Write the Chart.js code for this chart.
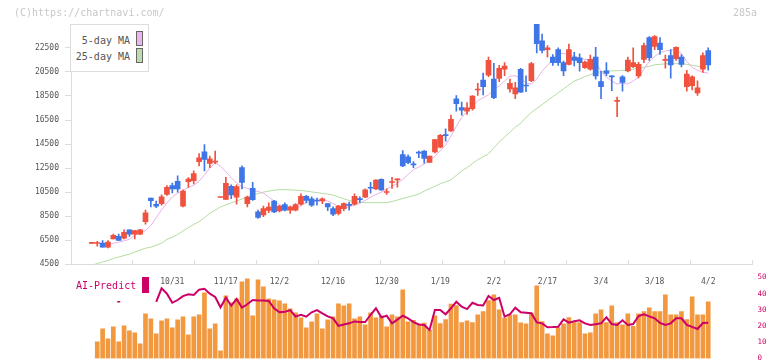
<!DOCTYPE html>
<html><head><meta charset="utf-8">
<script src="https://cdn.jsdelivr.net/npm/chart.js@4/dist/chart.umd.min.js"></script>
<style>
html,body{margin:0;padding:0;background:#fff;}
body{width:772px;height:361px;overflow:hidden;position:relative;font-family:'DejaVu Sans Mono',monospace;}
canvas{position:absolute;left:0;}
#c1{top:0;}
#c2{top:268px;}
.t{position:absolute;font-size:10px;line-height:12px;height:12px;white-space:pre;z-index:3;}
.sw{position:absolute;box-sizing:border-box;z-index:3;}
</style>
</head><body>
<canvas id="c1" width="772" height="275"></canvas>
<canvas id="c2" width="772" height="100"></canvas>
<div class="t" style="left:14px;top:7px;color:#c8c8c8;">(C)https://chartnavi.com/</div>
<div class="t" style="left:733px;top:7px;color:#c8c8c8;">285a</div>
<div class="sw" style="left:70px;top:24px;width:79px;height:48px;border:1px solid #ddd;background:#fff;z-index:2;"></div>
<div class="t" style="left:70px;width:60px;text-align:right;top:35px;color:#555;">5-day MA</div>
<div class="sw" style="left:136px;top:31px;width:7px;height:15px;border:1px solid #666;background:#ecb6ec;"></div>
<div class="t" style="left:70px;width:60px;text-align:right;top:51px;color:#555;">25-day MA</div>
<div class="sw" style="left:136px;top:48px;width:7px;height:15px;border:1px solid #666;background:#bcdcac;"></div>
<div class="t" style="left:76px;top:280px;color:#cc0066;">AI-Predict</div>
<div class="sw" style="left:142px;top:277px;width:7px;height:16px;background:#cc0066;"></div>
<script>
// ---- data ----
const dateLabels = ['10/31','11/17','12/2','12/16','12/30','1/19','2/2','2/17','3/4','3/18','4/2'];
const dateIdx = [15,25,35,45,55,65,75,85,95,105,115];
const priceTicks = [4500,6500,8500,10500,12500,14500,16500,18500,20500,22500];
const aiTicks = [0,10,20,30,40,50];

const open = [6230,6220,6267,5915,6595,6815,6676,7364,7004,7004, 8043,10007,9491,9540,10309,11045,11397,9327,11373,11455, 13034,13852,12895,13000,10050,9900,10988,10088,12543,9540, 10824,8861,8591,8979,9761,8943,9458,9000,9000,9491, 10145,9949,9790,9761,9540,9131,8725,9131,9420,9491, 9900,10088,10850,10767,11561,10470,11300,11521,13632,13443, 12800,13800,13909,12980,13852,14236,15250,15595,18270,17534, 17234,17452,19000,19824,20233,19906,19960,20724,19088,18680, 20724,19360,19770,24488,23097,22361,21733,22361,21270,21133, 21733,21680,20860,20724,21733,19690,20587,20120,18050,20097, 20587,20942,20178,21542,23370,22633,22905,21460,21870,21597, 21733,19278,19360,18760,20724,22279];
const high = [6260,6406,6464,6464,7004,7004,7364,7364,7306,7400, 9000,10007,9761,10277,11045,11258,11864,10688,11700,12273, 13713,14450,13500,13909,10070,11725,11095,11095,12682,10170, 11316,9000,9327,9600,9818,9409,9600,9327,9540,10358, 10227,10100,10000,10030,9540,9270,9409,9600,9679,10358, 10113,10770,11316,11550,11600,10770,11725,11600,13958,13600, 13034,13909,13958,13500,14900,15300,15760,16900,18541,18000, 17943,18541,19555,20397,21733,21215,21051,21270,19906,19640, 20806,20180,21300,24488,23643,22700,21950,22500,21400,22827, 22140,22010,21400,21900,22550,20560,21270,20200,18410,20200, 21733,22500,21300,22905,23450,23532,23370,21900,22361,22600, 21950,20642,20180,19770,22088,22500];
const low = [6230,5997,5915,5860,6595,6488,6595,6815,6595,6950, 7822,9270,9213,9409,10227,10440,10497,9270,10900,11177, 12682,12273,12543,12870,10050,9867,9950,9491,10767,9270, 9818,8316,8452,8779,8779,8861,8943,8725,8943,9409, 9600,9300,9409,9540,8950,8534,8591,8950,9000,9409, 9650,10030,10415,10700,10630,10309,10800,10906,12625,12870, 12543,13361,12900,12950,13770,14180,14730,15546,17231,16900, 16960,17316,18541,18595,20097,18270,19700,20180,18820,18270, 18800,18850,19700,22088,22088,21733,21050,21050,20180,21080, 20997,20560,20800,20650,19906,18270,20180,18950,16773,18900, 20500,20860,20000,21270,21460,22361,21950,20806,19988,21460, 20915,18900,19006,18541,20460,20642];
const close = [6250,6250,5915,6349,6897,6488,7143,7004,7306,7364, 8779,9786,9327,10113,10906,10767,10767,10579,11586,12052, 13361,13222,13279,13050,10064,11234,10276,10963,11316,10088, 9867,8397,9131,9249,8861,9327,9000,9270,9458,10145, 9818,9409,9760,9949,9270,8670,9327,9540,9400,10145, 9870,10685,10820,11504,10685,10500,11380,11590,12680,12952, 12760,13750,13306,13488,14862,15219,15200,16552,17861,17316, 17507,18488,19060,19277,21460,18350,20806,20996,19560,19170, 18820,19330,21188,22852,22300,22500,21270,21270,20590,22361, 21460,21270,21325,21542,20178,19280,20370,20090,18100,19633, 21488,21270,21133,22688,21680,23450,22361,21515,21080,22550, 21133,20315,20097,19170,21870,21080];
const ma5 = [null,null,null,6120,6243,6325,6447,6570,6897,7102, 7306,7716,8370,9025,9597,10088,10416,10620,10907,11070, 11397,11929,12500,12950,12650,12200,11700,11250,10950,10800, 10650,10550,10416,10088,9761,9475,9229,9066,9106,9352, 9638,9720,9761,9802,9761,9556,9270,9188,9270,9434, 9556,9802,10088,10293,10497,10743,10988,11234,11561,11970, 12379,12584,12829,13116,13484,13934,14425,15161,15979,16716, 17207,17616,18107,18352,18597,19007,19334,19743,20152,20177, 19989,19579,19497,19907,20561,21052,21543,22034,22034,21911, 21789,21666,21543,21543,21298,20561,20070,19743,19497,19579, 19497,19743,20070,20725,21380,21789,22116,22239,22320,22362, 22034,21380,20888,20643,20479,20398];
const ma25 = [4420,4549,4688,4811,4975,5097,5220,5343,5506,5670, 5834,5915,6079,6243,6570,6734,6979,7266,7552,7797, 8043,8370,8738,8984,9270,9434,9597,9761,9925,10088, 10293,10375,10497,10579,10661,10702,10702,10686,10661,10637, 10579,10514,10457,10391,10334,10252,10088,9949,9802,9679, 9638,9622,9622,9622,9622,9622,9720,9843,9966,10088, 10211,10334,10579,10784,10988,11193,11357,11520,11888,12257, 12543,12870,13198,13443,13688,14179,14670,15079,15488,15898, 16225,16716,17125,17452,17779,18107,18434,18761,19089,19416, 19743,19907,20111,20275,20438,20520,20586,20586,20602,20619, 20643,20725,20807,20888,20970,21093,21134,21175,21191,21191, 21191,21134,21052,20970,20930,20888];
const volume = [null,10.3,18.3,12.2,19.6,10.3,20.2,17.1,15.9,9.1, 27.6,24.5,15.2,23.3,24.5,18.9,23.9,25.7,14.6,25.7, 27.0,40.6,18.3,21.4,4.8,38.7,34.4,36.8,47.3,49.2, 26.4,48.6,44.2,36.8,36.2,35.6,33.8,30.7,28.2,25.1, 18.9,22.7,27.6,18.3,23.9,25.7,33.8,32.5,33.8,24.5, 25.7,20.8,28.2,25.1,26.4,19.6,27.0,25.7,42.4,22.6, 23.6,21.0,21.8,17.6,26.4,21.6,24.1,33.6,32.6,22.2, 23.3,22.2,27.0,29.0,35.8,39.3,30.0,24.9,27.0,27.0, 22.0,21.4,28.0,44.9,22.8,15.2,14.0,19.1,21.4,25.3, 22.2,22.2,15.2,15.8,27.6,30.0,22.2,32.5,22.2,20.8, 27.6,19.8,27.6,29.0,31.3,29.0,29.0,39.3,27.0,27.0, 29.0,24.1,38.1,27.0,27.0,35.0];
const aiPredict = [null,null,null,null,null,35,null,null,null,null, null,null,35.0,43.3,40,34.4,36.1,38.5,39.6,39.2, 42.5,43,40,38,31.6,37.5,32.6,36.7,31.4,33.5, 36.1,35.8,35.8,35.5,31,28.5,28.8,29.9,25.8,26.9, 25.8,28.5,29.9,27.9,26,24.8,20.2,21,21.7,22.9, 22.6,22.5,27,31.0,25.4,26.4,21.7,24,26.4,24.8, 22.5,21,20.7,17.6,29.9,29.9,27.3,31,35.0,32, 30.5,34.4,33,32.7,38.6,36.1,37.5,25.8,27.3,31.4, 28.5,28.2,27.9,22.3,21.7,19.3,19.4,19.6,24.2,22.1, 23,23.6,21.7,20.7,21.2,21.7,25.4,21.3,20.7,23.6, 20.7,21.3,26.2,27.3,26,24.8,22,20.7,21.7,24.8, 24.8,20.7,19.5,18.2,21.9,22.1];

// ---- styles ----
const UP = '#f0523f', DOWN = '#3e76e8';
const X_MIN = -3.9, X_MAX = 123.26, X_TICKS = 12;
const FONT = 'DejaVu Sans Mono';
const idx = close.map((_, i) => i);
const candleColor = idx.map(i => close[i] >= open[i] ? UP : DOWN);

Chart.defaults.animation = false;
Chart.defaults.plugins.legend.display = false;
Chart.defaults.plugins.tooltip.enabled = false;

new Chart(document.getElementById('c1'), {
  type: 'bar',
  data: {
    datasets: [
      { type: 'line', data: idx.map(i => ({x: i, y: ma25[i]})), borderColor: '#b4dca0', borderWidth: 1, pointRadius: 0, order: 4 },
      { type: 'line', data: idx.map(i => ({x: i, y: ma5[i]})), borderColor: '#e8b0e8', borderWidth: 1, pointRadius: 0, order: 3 },
      { type: 'bar', data: idx.map(i => ({x: i, y: [low[i], high[i]]})), backgroundColor: candleColor, barThickness: 1, grouped: false, order: 2 },
      { type: 'bar', data: idx.map(i => ({x: i, y: [open[i], close[i]]})), backgroundColor: candleColor, barThickness: 5, minBarLength: 1, grouped: false, order: 1 }
    ]
  },
  options: {
    responsive: false,
    devicePixelRatio: 1,
    layout: { padding: { top: 24, right: 19.5, bottom: 0, left: 0 } },
    scales: {
      x: {
        type: 'linear', min: X_MIN, max: X_MAX, offset: false,
        grid: { display: true, drawOnChartArea: false, drawTicks: true, tickLength: -4, color: '#dcdcdc', offset: false },
        border: { display: true, color: '#dcdcdc' },
        ticks: { display: false },
        afterBuildTicks: s => { s.ticks = Array.from({length: X_TICKS}, (_, k) => ({value: X_MIN + k * (X_MAX - X_MIN) / (X_TICKS - 1)})); },
        afterFit: s => { s.height = 6.7; }
      },
      y: {
        type: 'linear', min: 4500, max: 24490,
        grid: { drawOnChartArea: false, drawTicks: true, tickLength: 6, color: '#dcdcdc' },
        border: { display: true, color: '#dcdcdc' },
        ticks: { font: { family: FONT, size: 8 }, color: '#555', padding: 6, callback: v => String(v) },
        afterBuildTicks: s => { s.ticks = priceTicks.map(v => ({value: v})); },
        afterFit: s => { s.width = 71; }
      }
    }
  }
});

new Chart(document.getElementById('c2'), {
  type: 'bar',
  data: {
    datasets: [
      { type: 'bar', data: idx.map(i => ({x: i, y: volume[i]})), yAxisID: 'yv', backgroundColor: '#f2993f', barThickness: 4, grouped: false, order: 2 },
      { type: 'line', data: idx.map(i => ({x: i, y: aiPredict[i]})), yAxisID: 'yai', borderColor: '#cc0066', borderWidth: 2, spanGaps: false,
        pointStyle: 'line', pointBorderColor: '#cc0066', pointBorderWidth: 1.5,
        pointRadius: c => { const i = c.dataIndex; return (aiPredict[i] != null && aiPredict[i-1] == null && aiPredict[i+1] == null) ? 1.5 : 0; },
        order: 1 }
    ]
  },
  options: {
    responsive: false,
    devicePixelRatio: 1,
    layout: { padding: { top: 9.5, right: 0, bottom: 9.5, left: 71 } },
    scales: {
      x: {
        type: 'linear', min: X_MIN, max: X_MAX, offset: false,
        position: { yai: 50.5 },
        grid: { display: false, drawTicks: false },
        border: { display: false },
        ticks: { font: { family: FONT, size: 8 }, color: '#555', padding: 0, maxRotation: 0, autoSkip: false,
                 callback: (v, i) => dateLabels[i] },
        afterBuildTicks: s => { s.ticks = dateIdx.map(v => ({value: v})); }
      },
      yv: { display: false, min: 0, max: 50 },
      yai: {
        position: 'right', min: 0, max: 50,
        grid: { display: false, drawTicks: false },
        border: { display: false },
        ticks: { font: { family: FONT, size: 7.5 }, color: '#cc0066', padding: 5 },
        afterBuildTicks: s => { s.ticks = aiTicks.map(v => ({value: v})); },
        afterFit: s => { s.width = 19.5; s.paddingTop = 0; s.paddingBottom = 0; }
      }
    }
  }
});
</script>
</body></html>
